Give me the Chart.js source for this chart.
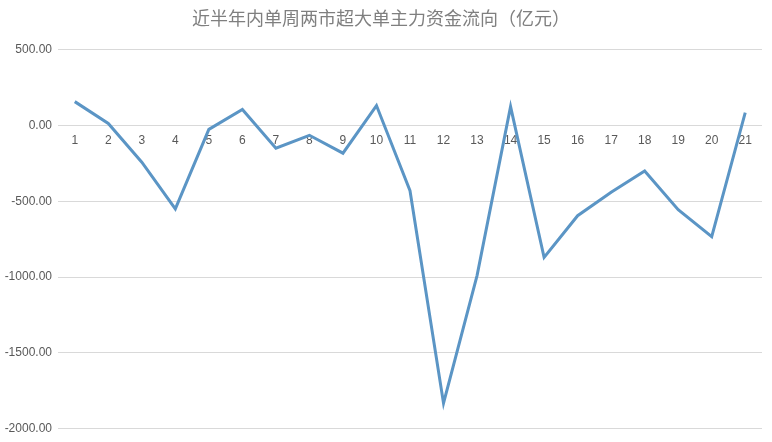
<!DOCTYPE html>
<html>
<head>
<meta charset="utf-8">
<script src="https://cdn.jsdelivr.net/npm/chart.js@4"></script>
<style>
  html, body { margin: 0; padding: 0; background: #fff; }
  #wrap { width: 772px; height: 442px; }
</style>
</head>
<body>
<div id="wrap"><canvas id="myChart" width="772" height="442"></canvas></div>
<script>
var weeks = ["1","2","3","4","5","6","7","8","9","10","11","12","13","14","15","16","17","18","19","20","21"];
var flows = [157, 13, -242, -550, -26, 105, -150, -65, -183, 131, -430, -1831, -990, 124, -870, -595, -440, -300, -556, -733, 85];
var yTicks = [500, 0, -500, -1000, -1500, -2000];
var chartTitle = "近半年内单周两市超大单主力资金流向（亿元）";

var ctx = document.getElementById("myChart").getContext("2d");
var chart = new Chart(ctx, {
  type: "line",
  data: {
    labels: weeks,
    datasets: [
      {
        label: "",
        data: flows,
        borderColor: "#5b95c5",
        backgroundColor: "#5b95c5",
        borderWidth: 3,
        pointRadius: 0,
        tension: 0,
        fill: false,
      },
    ],
  },
  options: {
    responsive: false,
    animation: false,
    layout: { padding: { left: 0, right: 10, top: 0, bottom: 8 } },
    plugins: {
      legend: { display: false },
      tooltip: { enabled: false },
      title: {
        display: true,
        text: chartTitle,
        color: "#7f7f7f",
        font: { family: "'Noto Sans CJK SC', sans-serif", size: 18, weight: "normal" },
        padding: { top: 7, bottom: 21 },
      },
    },
    scales: {
      x: {
        position: { y: 0 },
        offset: true,
        grid: { display: false },
        border: { display: false },
        ticks: {
          color: "#595959",
          font: { family: "'Liberation Sans', sans-serif", size: 12 },
          padding: 0,
          maxRotation: 0,
          autoSkip: false,
        },
      },
      y: {
        min: -2000,
        max: 500,
        afterBuildTicks: function (axis) {
          axis.ticks = yTicks.map(function (v) { return { value: v }; });
        },
        afterFit: function (axis) { axis.width = 58; },
        grid: { color: "#d9d9d9", drawTicks: false },
        border: { display: false },
        ticks: {
          color: "#595959",
          font: { family: "'Liberation Sans', sans-serif", size: 12 },
          padding: 6,
          callback: function (v) { return Number(v).toFixed(2); },
        },
      },
    },
  },
});
</script>
</body>
</html>
